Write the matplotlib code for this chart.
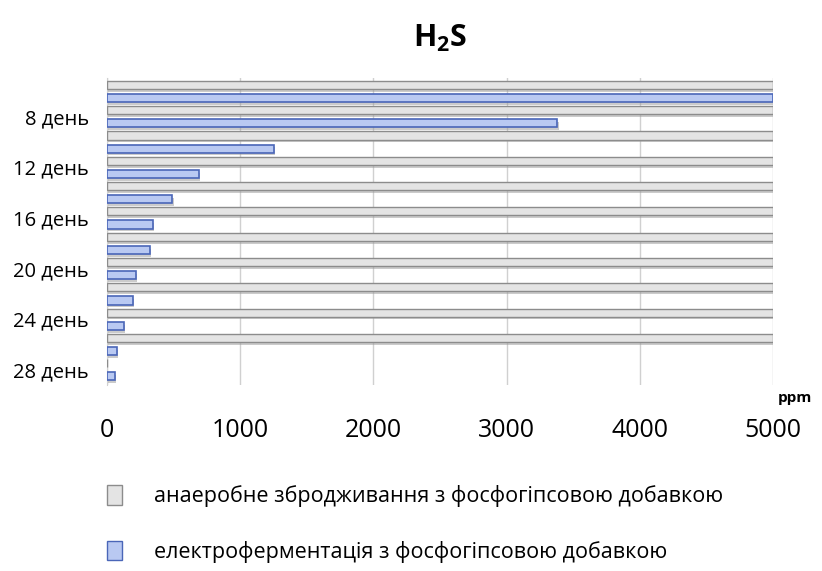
import matplotlib.pyplot as plt
import matplotlib.patheffects as pe
from matplotlib.patches import Patch

plt.rcParams['font.family'] = ['Open Sans', 'DejaVu Sans']
plt.rcParams['mathtext.fontset'] = 'custom'
plt.rcParams['mathtext.rm'] = 'Open Sans'
plt.rcParams['mathtext.bf'] = 'Open Sans:bold'

# дні вимірювання (6..28), на осі підписано кожен другий
days = [6, 8, 10, 12, 14, 16, 18, 20, 22, 24, 26, 28]
day_labels = ['8 день', '12 день', '16 день', '20 день', '24 день', '28 день']
labelled_days = [8, 12, 16, 20, 24, 28]

# концентрація H2S, ppm
anaerobic = [5000, 5000, 5000, 5000, 5000, 5000, 5000, 5000, 5000, 5000, 5000, 0]
electro = [5000, 3380, 1250, 690, 490, 345, 323, 218, 195, 128, 75, 60]

names = ['анаеробне збродживання з фосфогіпсовою добавкою',
         'електроферментація з фосфогіпсовою добавкою']

fig = plt.figure(figsize=(8.22, 5.71), dpi=100)
ax = fig.add_axes([107 / 822, 1 - 385 / 571, (773 - 107) / 822, (385 - 78) / 571])

pos = list(range(len(days)))
h = 0.32
shadow = [pe.SimplePatchShadow(offset=(1, -2), shadow_rgbFace='#999999', alpha=0.5), pe.Normal()]

gb = ax.barh([p - 0.26 for p in pos], anaerobic, height=h, color='#e4e4e4',
             edgecolor='#8c8c8c', linewidth=1, zorder=3)
bb = ax.barh([p + 0.26 for p in pos], electro, height=h, color='#b9c9f2',
             edgecolor='#4a66b8', linewidth=1.2, zorder=3)
for b in list(gb) + list(bb):
    b.set_path_effects(shadow)

ax.set_xlim(0, 5000)
ax.set_ylim(11.6, -0.53)
ax.set_xticks([0, 1000, 2000, 3000, 4000, 5000])
ax.set_xticklabels(['0', '1000', '2000', '3000', '4000', '5000'], fontsize=18)
ax.set_yticks([days.index(d) for d in labelled_days])
ax.set_yticklabels(day_labels, fontsize=14.5)
ax.tick_params(axis='x', length=0, pad=24)
ax.tick_params(axis='y', length=0, pad=13)
ax.grid(axis='x', color='#d0d0d0', linewidth=1, zorder=0)
for s in ['top', 'right', 'bottom']:
    ax.spines[s].set_visible(False)
ax.spines['left'].set_color('#d0d0d0')

fig.text(440 / 822, 1 - 38 / 571, r'$\mathbf{H_2S}$', fontsize=22, ha='center', va='center')
fig.text(795 / 822, 1 - 398 / 571, 'ppm', fontsize=11, fontweight='bold', ha='center', va='center')

handles = [Patch(facecolor='#e4e4e4', edgecolor='#8c8c8c'),
           Patch(facecolor='#b9c9f2', edgecolor='#4a66b8')]
fig.legend(handles, names, loc='upper left', bbox_to_anchor=(88 / 822, 1 - 466 / 571),
           frameon=False, fontsize=15.5, handlelength=0.7, handleheight=1.0,
           handletextpad=1.45, labelspacing=1.55)

plt.savefig('out.png', dpi=100)
